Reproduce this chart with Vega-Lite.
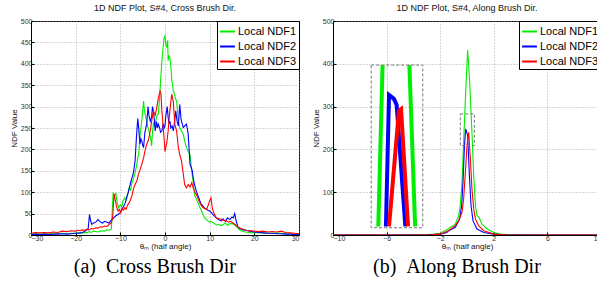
{
  "$schema": "https://vega.github.io/schema/vega-lite/v6.json",
  "padding": {"left": 9, "top": 3, "right": 0, "bottom": 0},
  "background": "white",
  "config": {
    "font": "Liberation Sans",
    "view": {"stroke": "black", "strokeWidth": 1},
    "axis": {
      "domainColor": "black", "tickColor": "black", "tickSize": -3,
      "labelFontSize": 7, "labelColor": "#333", "labelFont": "Liberation Sans",
      "titleFontSize": 8, "titleFontWeight": "normal", "titleColor": "#111", "titleFont": "Liberation Sans",
      "gridColor": "#999", "gridDash": [1, 2], "gridWidth": 0.8, "gridOpacity": 1
    },
    "title": {"fontSize": 9, "fontWeight": "normal", "font": "Liberation Sans", "color": "#111", "offset": 4},
    "legend": {
      "strokeColor": "black", "fillColor": "white",
      "padding": 2, "symbolType": "stroke", "symbolStrokeWidth": 2, "symbolSize": 220,
      "labelFontSize": 11, "labelFont": "Liberation Sans", "labelColor": "black", "rowPadding": 1, "cornerRadius": 0, "labelOffset": 2
    }
  },
  "datasets": {
    "cross": [
      {"theta": -30, "ndf": 2, "series": "Local NDF1"}, {"theta": -29, "ndf": 3, "series": "Local NDF1"}, {"theta": -28, "ndf": 2, "series": "Local NDF1"}, {"theta": -27, "ndf": 3, "series": "Local NDF1"}, {"theta": -26, "ndf": 2, "series": "Local NDF1"}, {"theta": -25, "ndf": 3, "series": "Local NDF1"}, {"theta": -24, "ndf": 3, "series": "Local NDF1"}, {"theta": -23, "ndf": 4, "series": "Local NDF1"}, {"theta": -22, "ndf": 3, "series": "Local NDF1"}, {"theta": -21, "ndf": 4, "series": "Local NDF1"}, {"theta": -20, "ndf": 4, "series": "Local NDF1"}, {"theta": -19, "ndf": 5, "series": "Local NDF1"}, {"theta": -18.5, "ndf": 4, "series": "Local NDF1"}, {"theta": -18, "ndf": 6, "series": "Local NDF1"}, {"theta": -17.5, "ndf": 5, "series": "Local NDF1"}, {"theta": -17, "ndf": 8, "series": "Local NDF1"}, {"theta": -16.5, "ndf": 6, "series": "Local NDF1"}, {"theta": -16, "ndf": 9, "series": "Local NDF1"}, {"theta": -15.5, "ndf": 8, "series": "Local NDF1"}, {"theta": -15, "ndf": 7, "series": "Local NDF1"}, {"theta": -14.5, "ndf": 9, "series": "Local NDF1"}, {"theta": -14, "ndf": 10, "series": "Local NDF1"}, {"theta": -13.5, "ndf": 9, "series": "Local NDF1"}, {"theta": -13, "ndf": 12, "series": "Local NDF1"}, {"theta": -12.5, "ndf": 11, "series": "Local NDF1"}, {"theta": -12, "ndf": 14, "series": "Local NDF1"}, {"theta": -11.8, "ndf": 60, "series": "Local NDF1"}, {"theta": -11.6, "ndf": 99, "series": "Local NDF1"}, {"theta": -11.3, "ndf": 92, "series": "Local NDF1"}, {"theta": -11, "ndf": 97, "series": "Local NDF1"}, {"theta": -10.7, "ndf": 75, "series": "Local NDF1"}, {"theta": -10.4, "ndf": 64, "series": "Local NDF1"}, {"theta": -10, "ndf": 70, "series": "Local NDF1"}, {"theta": -9.7, "ndf": 66, "series": "Local NDF1"}, {"theta": -9.4, "ndf": 80, "series": "Local NDF1"}, {"theta": -9, "ndf": 87, "series": "Local NDF1"}, {"theta": -8.7, "ndf": 82, "series": "Local NDF1"}, {"theta": -8.4, "ndf": 95, "series": "Local NDF1"}, {"theta": -8, "ndf": 110, "series": "Local NDF1"}, {"theta": -7.7, "ndf": 105, "series": "Local NDF1"}, {"theta": -7.4, "ndf": 122, "series": "Local NDF1"}, {"theta": -7, "ndf": 134, "series": "Local NDF1"}, {"theta": -6.7, "ndf": 145, "series": "Local NDF1"}, {"theta": -6.4, "ndf": 160, "series": "Local NDF1"}, {"theta": -6.1, "ndf": 180, "series": "Local NDF1"}, {"theta": -5.9, "ndf": 188, "series": "Local NDF1"}, {"theta": -5.6, "ndf": 230, "series": "Local NDF1"}, {"theta": -5.4, "ndf": 250, "series": "Local NDF1"}, {"theta": -5.2, "ndf": 266, "series": "Local NDF1"}, {"theta": -5, "ndf": 290, "series": "Local NDF1"}, {"theta": -4.8, "ndf": 313, "series": "Local NDF1"}, {"theta": -4.6, "ndf": 290, "series": "Local NDF1"}, {"theta": -4.4, "ndf": 280, "series": "Local NDF1"}, {"theta": -4.1, "ndf": 266, "series": "Local NDF1"}, {"theta": -3.8, "ndf": 250, "series": "Local NDF1"}, {"theta": -3.5, "ndf": 240, "series": "Local NDF1"}, {"theta": -3.2, "ndf": 225, "series": "Local NDF1"}, {"theta": -3, "ndf": 208, "series": "Local NDF1"}, {"theta": -2.8, "ndf": 240, "series": "Local NDF1"}, {"theta": -2.6, "ndf": 261, "series": "Local NDF1"}, {"theta": -2.3, "ndf": 255, "series": "Local NDF1"}, {"theta": -2, "ndf": 270, "series": "Local NDF1"}, {"theta": -1.7, "ndf": 282, "series": "Local NDF1"}, {"theta": -1.5, "ndf": 282, "series": "Local NDF1"}, {"theta": -1.2, "ndf": 320, "series": "Local NDF1"}, {"theta": -1, "ndf": 360, "series": "Local NDF1"}, {"theta": -0.7, "ndf": 406, "series": "Local NDF1"}, {"theta": -0.5, "ndf": 430, "series": "Local NDF1"}, {"theta": -0.2, "ndf": 461, "series": "Local NDF1"}, {"theta": 0, "ndf": 465, "series": "Local NDF1"}, {"theta": 0.2, "ndf": 445, "series": "Local NDF1"}, {"theta": 0.4, "ndf": 438, "series": "Local NDF1"}, {"theta": 0.6, "ndf": 455, "series": "Local NDF1"}, {"theta": 0.7, "ndf": 407, "series": "Local NDF1"}, {"theta": 0.9, "ndf": 420, "series": "Local NDF1"}, {"theta": 1.1, "ndf": 414, "series": "Local NDF1"}, {"theta": 1.3, "ndf": 395, "series": "Local NDF1"}, {"theta": 1.5, "ndf": 364, "series": "Local NDF1"}, {"theta": 1.7, "ndf": 350, "series": "Local NDF1"}, {"theta": 1.85, "ndf": 336, "series": "Local NDF1"}, {"theta": 2.1, "ndf": 330, "series": "Local NDF1"}, {"theta": 2.3, "ndf": 320, "series": "Local NDF1"}, {"theta": 2.6, "ndf": 313, "series": "Local NDF1"}, {"theta": 2.8, "ndf": 290, "series": "Local NDF1"}, {"theta": 3, "ndf": 266, "series": "Local NDF1"}, {"theta": 3.3, "ndf": 251, "series": "Local NDF1"}, {"theta": 3.6, "ndf": 245, "series": "Local NDF1"}, {"theta": 4.1, "ndf": 235, "series": "Local NDF1"}, {"theta": 4.4, "ndf": 220, "series": "Local NDF1"}, {"theta": 4.8, "ndf": 204, "series": "Local NDF1"}, {"theta": 5.2, "ndf": 195, "series": "Local NDF1"}, {"theta": 5.6, "ndf": 188, "series": "Local NDF1"}, {"theta": 5.9, "ndf": 157, "series": "Local NDF1"}, {"theta": 6.1, "ndf": 140, "series": "Local NDF1"}, {"theta": 6.3, "ndf": 126, "series": "Local NDF1"}, {"theta": 6.5, "ndf": 105, "series": "Local NDF1"}, {"theta": 6.7, "ndf": 91, "series": "Local NDF1"}, {"theta": 7, "ndf": 85, "series": "Local NDF1"}, {"theta": 7.4, "ndf": 75, "series": "Local NDF1"}, {"theta": 7.8, "ndf": 65, "series": "Local NDF1"}, {"theta": 8.2, "ndf": 56, "series": "Local NDF1"}, {"theta": 8.6, "ndf": 46, "series": "Local NDF1"}, {"theta": 8.9, "ndf": 40, "series": "Local NDF1"}, {"theta": 9.3, "ndf": 36, "series": "Local NDF1"}, {"theta": 9.6, "ndf": 33, "series": "Local NDF1"}, {"theta": 10, "ndf": 30, "series": "Local NDF1"}, {"theta": 10.3, "ndf": 32, "series": "Local NDF1"}, {"theta": 10.7, "ndf": 29, "series": "Local NDF1"}, {"theta": 11.2, "ndf": 26, "series": "Local NDF1"}, {"theta": 11.6, "ndf": 23, "series": "Local NDF1"}, {"theta": 12, "ndf": 25, "series": "Local NDF1"}, {"theta": 12.5, "ndf": 22, "series": "Local NDF1"}, {"theta": 13, "ndf": 24, "series": "Local NDF1"}, {"theta": 13.5, "ndf": 28, "series": "Local NDF1"}, {"theta": 14, "ndf": 22, "series": "Local NDF1"}, {"theta": 14.5, "ndf": 26, "series": "Local NDF1"}, {"theta": 15, "ndf": 27, "series": "Local NDF1"}, {"theta": 15.5, "ndf": 24, "series": "Local NDF1"}, {"theta": 16, "ndf": 20, "series": "Local NDF1"}, {"theta": 16.5, "ndf": 14, "series": "Local NDF1"}, {"theta": 17, "ndf": 10, "series": "Local NDF1"}, {"theta": 17.5, "ndf": 8, "series": "Local NDF1"}, {"theta": 18, "ndf": 7, "series": "Local NDF1"}, {"theta": 19, "ndf": 6, "series": "Local NDF1"}, {"theta": 20, "ndf": 5, "series": "Local NDF1"}, {"theta": 21, "ndf": 6, "series": "Local NDF1"}, {"theta": 22, "ndf": 5, "series": "Local NDF1"}, {"theta": 23, "ndf": 4, "series": "Local NDF1"}, {"theta": 24, "ndf": 4, "series": "Local NDF1"}, {"theta": 25, "ndf": 5, "series": "Local NDF1"}, {"theta": 26, "ndf": 4, "series": "Local NDF1"}, {"theta": 27, "ndf": 3, "series": "Local NDF1"}, {"theta": 28, "ndf": 3, "series": "Local NDF1"}, {"theta": 29, "ndf": 2, "series": "Local NDF1"}, {"theta": 30, "ndf": 2, "series": "Local NDF1"},

      {"theta": -30, "ndf": 1, "series": "Local NDF2"}, {"theta": -29, "ndf": 2, "series": "Local NDF2"}, {"theta": -28, "ndf": 1, "series": "Local NDF2"}, {"theta": -27, "ndf": 2, "series": "Local NDF2"}, {"theta": -26, "ndf": 1, "series": "Local NDF2"}, {"theta": -25, "ndf": 2, "series": "Local NDF2"}, {"theta": -24, "ndf": 2, "series": "Local NDF2"}, {"theta": -23, "ndf": 3, "series": "Local NDF2"}, {"theta": -22, "ndf": 2, "series": "Local NDF2"}, {"theta": -21, "ndf": 3, "series": "Local NDF2"}, {"theta": -20, "ndf": 4, "series": "Local NDF2"}, {"theta": -19, "ndf": 5, "series": "Local NDF2"}, {"theta": -18.5, "ndf": 6, "series": "Local NDF2"}, {"theta": -18, "ndf": 8, "series": "Local NDF2"}, {"theta": -17.5, "ndf": 12, "series": "Local NDF2"}, {"theta": -17.2, "ndf": 15, "series": "Local NDF2"}, {"theta": -16.9, "ndf": 48, "series": "Local NDF2"}, {"theta": -16.7, "ndf": 35, "series": "Local NDF2"}, {"theta": -16.4, "ndf": 25, "series": "Local NDF2"}, {"theta": -16, "ndf": 28, "series": "Local NDF2"}, {"theta": -15.5, "ndf": 30, "series": "Local NDF2"}, {"theta": -15, "ndf": 36, "series": "Local NDF2"}, {"theta": -14.7, "ndf": 33, "series": "Local NDF2"}, {"theta": -14.4, "ndf": 30, "series": "Local NDF2"}, {"theta": -14, "ndf": 28, "series": "Local NDF2"}, {"theta": -13.5, "ndf": 32, "series": "Local NDF2"}, {"theta": -13, "ndf": 30, "series": "Local NDF2"}, {"theta": -12.5, "ndf": 28, "series": "Local NDF2"}, {"theta": -12.2, "ndf": 33, "series": "Local NDF2"}, {"theta": -11.8, "ndf": 36, "series": "Local NDF2"}, {"theta": -11.5, "ndf": 40, "series": "Local NDF2"}, {"theta": -11, "ndf": 45, "series": "Local NDF2"}, {"theta": -10.5, "ndf": 48, "series": "Local NDF2"}, {"theta": -10, "ndf": 52, "series": "Local NDF2"}, {"theta": -9.7, "ndf": 60, "series": "Local NDF2"}, {"theta": -9.3, "ndf": 66, "series": "Local NDF2"}, {"theta": -8.9, "ndf": 75, "series": "Local NDF2"}, {"theta": -8.5, "ndf": 90, "series": "Local NDF2"}, {"theta": -8.2, "ndf": 100, "series": "Local NDF2"}, {"theta": -7.8, "ndf": 118, "series": "Local NDF2"}, {"theta": -7.5, "ndf": 130, "series": "Local NDF2"}, {"theta": -7.2, "ndf": 140, "series": "Local NDF2"}, {"theta": -7, "ndf": 150, "series": "Local NDF2"}, {"theta": -6.7, "ndf": 173, "series": "Local NDF2"}, {"theta": -6.5, "ndf": 210, "series": "Local NDF2"}, {"theta": -6.3, "ndf": 243, "series": "Local NDF2"}, {"theta": -6.1, "ndf": 272, "series": "Local NDF2"}, {"theta": -5.9, "ndf": 251, "series": "Local NDF2"}, {"theta": -5.6, "ndf": 212, "series": "Local NDF2"}, {"theta": -5.4, "ndf": 225, "series": "Local NDF2"}, {"theta": -5.2, "ndf": 220, "series": "Local NDF2"}, {"theta": -5, "ndf": 210, "series": "Local NDF2"}, {"theta": -4.8, "ndf": 204, "series": "Local NDF2"}, {"theta": -4.5, "ndf": 240, "series": "Local NDF2"}, {"theta": -4.1, "ndf": 259, "series": "Local NDF2"}, {"theta": -3.8, "ndf": 300, "series": "Local NDF2"}, {"theta": -3.6, "ndf": 280, "series": "Local NDF2"}, {"theta": -3.3, "ndf": 266, "series": "Local NDF2"}, {"theta": -3, "ndf": 275, "series": "Local NDF2"}, {"theta": -2.8, "ndf": 300, "series": "Local NDF2"}, {"theta": -2.6, "ndf": 290, "series": "Local NDF2"}, {"theta": -2.4, "ndf": 270, "series": "Local NDF2"}, {"theta": -2.2, "ndf": 243, "series": "Local NDF2"}, {"theta": -1.9, "ndf": 265, "series": "Local NDF2"}, {"theta": -1.7, "ndf": 250, "series": "Local NDF2"}, {"theta": -1.5, "ndf": 259, "series": "Local NDF2"}, {"theta": -1.2, "ndf": 250, "series": "Local NDF2"}, {"theta": -1, "ndf": 240, "series": "Local NDF2"}, {"theta": -0.7, "ndf": 243, "series": "Local NDF2"}, {"theta": -0.4, "ndf": 260, "series": "Local NDF2"}, {"theta": -0.2, "ndf": 250, "series": "Local NDF2"}, {"theta": 0, "ndf": 255, "series": "Local NDF2"}, {"theta": 0.2, "ndf": 280, "series": "Local NDF2"}, {"theta": 0.5, "ndf": 300, "series": "Local NDF2"}, {"theta": 0.7, "ndf": 275, "series": "Local NDF2"}, {"theta": 0.9, "ndf": 260, "series": "Local NDF2"}, {"theta": 1.1, "ndf": 266, "series": "Local NDF2"}, {"theta": 1.3, "ndf": 250, "series": "Local NDF2"}, {"theta": 1.6, "ndf": 255, "series": "Local NDF2"}, {"theta": 1.85, "ndf": 243, "series": "Local NDF2"}, {"theta": 2.1, "ndf": 260, "series": "Local NDF2"}, {"theta": 2.4, "ndf": 290, "series": "Local NDF2"}, {"theta": 2.7, "ndf": 266, "series": "Local NDF2"}, {"theta": 3, "ndf": 255, "series": "Local NDF2"}, {"theta": 3.3, "ndf": 305, "series": "Local NDF2"}, {"theta": 3.6, "ndf": 270, "series": "Local NDF2"}, {"theta": 3.8, "ndf": 262, "series": "Local NDF2"}, {"theta": 4.1, "ndf": 251, "series": "Local NDF2"}, {"theta": 4.4, "ndf": 255, "series": "Local NDF2"}, {"theta": 4.8, "ndf": 259, "series": "Local NDF2"}, {"theta": 5, "ndf": 248, "series": "Local NDF2"}, {"theta": 5.2, "ndf": 235, "series": "Local NDF2"}, {"theta": 5.4, "ndf": 200, "series": "Local NDF2"}, {"theta": 5.6, "ndf": 165, "series": "Local NDF2"}, {"theta": 5.9, "ndf": 157, "series": "Local NDF2"}, {"theta": 6.1, "ndf": 150, "series": "Local NDF2"}, {"theta": 6.3, "ndf": 134, "series": "Local NDF2"}, {"theta": 6.6, "ndf": 118, "series": "Local NDF2"}, {"theta": 7, "ndf": 103, "series": "Local NDF2"}, {"theta": 7.4, "ndf": 92, "series": "Local NDF2"}, {"theta": 7.8, "ndf": 80, "series": "Local NDF2"}, {"theta": 8.1, "ndf": 72, "series": "Local NDF2"}, {"theta": 8.5, "ndf": 68, "series": "Local NDF2"}, {"theta": 8.9, "ndf": 62, "series": "Local NDF2"}, {"theta": 9.3, "ndf": 60, "series": "Local NDF2"}, {"theta": 9.6, "ndf": 58, "series": "Local NDF2"}, {"theta": 10, "ndf": 56, "series": "Local NDF2"}, {"theta": 10.4, "ndf": 52, "series": "Local NDF2"}, {"theta": 10.7, "ndf": 48, "series": "Local NDF2"}, {"theta": 11.1, "ndf": 44, "series": "Local NDF2"}, {"theta": 11.5, "ndf": 40, "series": "Local NDF2"}, {"theta": 12, "ndf": 36, "series": "Local NDF2"}, {"theta": 12.6, "ndf": 33, "series": "Local NDF2"}, {"theta": 13, "ndf": 38, "series": "Local NDF2"}, {"theta": 13.5, "ndf": 32, "series": "Local NDF2"}, {"theta": 14, "ndf": 40, "series": "Local NDF2"}, {"theta": 14.5, "ndf": 36, "series": "Local NDF2"}, {"theta": 15, "ndf": 42, "series": "Local NDF2"}, {"theta": 15.3, "ndf": 40, "series": "Local NDF2"}, {"theta": 15.6, "ndf": 50, "series": "Local NDF2"}, {"theta": 15.9, "ndf": 35, "series": "Local NDF2"}, {"theta": 16.3, "ndf": 19, "series": "Local NDF2"}, {"theta": 16.8, "ndf": 15, "series": "Local NDF2"}, {"theta": 17.5, "ndf": 12, "series": "Local NDF2"}, {"theta": 18.1, "ndf": 11, "series": "Local NDF2"}, {"theta": 19, "ndf": 9, "series": "Local NDF2"}, {"theta": 20, "ndf": 7, "series": "Local NDF2"}, {"theta": 21, "ndf": 6, "series": "Local NDF2"}, {"theta": 22, "ndf": 5, "series": "Local NDF2"}, {"theta": 23, "ndf": 4, "series": "Local NDF2"}, {"theta": 24, "ndf": 4, "series": "Local NDF2"}, {"theta": 25, "ndf": 3, "series": "Local NDF2"}, {"theta": 26, "ndf": 3, "series": "Local NDF2"}, {"theta": 27, "ndf": 2, "series": "Local NDF2"}, {"theta": 28, "ndf": 2, "series": "Local NDF2"}, {"theta": 29, "ndf": 1, "series": "Local NDF2"}, {"theta": 30, "ndf": 1, "series": "Local NDF2"},

      {"theta": -30, "ndf": 4, "series": "Local NDF3"}, {"theta": -29, "ndf": 6, "series": "Local NDF3"}, {"theta": -28, "ndf": 5, "series": "Local NDF3"}, {"theta": -27, "ndf": 6, "series": "Local NDF3"}, {"theta": -26, "ndf": 5, "series": "Local NDF3"}, {"theta": -25, "ndf": 7, "series": "Local NDF3"}, {"theta": -24, "ndf": 6, "series": "Local NDF3"}, {"theta": -23, "ndf": 9, "series": "Local NDF3"}, {"theta": -22, "ndf": 8, "series": "Local NDF3"}, {"theta": -21, "ndf": 10, "series": "Local NDF3"}, {"theta": -20, "ndf": 9, "series": "Local NDF3"}, {"theta": -19.5, "ndf": 11, "series": "Local NDF3"}, {"theta": -19, "ndf": 10, "series": "Local NDF3"}, {"theta": -18.5, "ndf": 12, "series": "Local NDF3"}, {"theta": -18, "ndf": 11, "series": "Local NDF3"}, {"theta": -17.5, "ndf": 13, "series": "Local NDF3"}, {"theta": -17, "ndf": 12, "series": "Local NDF3"}, {"theta": -16.5, "ndf": 15, "series": "Local NDF3"}, {"theta": -16, "ndf": 14, "series": "Local NDF3"}, {"theta": -15.5, "ndf": 17, "series": "Local NDF3"}, {"theta": -15, "ndf": 16, "series": "Local NDF3"}, {"theta": -14.5, "ndf": 19, "series": "Local NDF3"}, {"theta": -14, "ndf": 18, "series": "Local NDF3"}, {"theta": -13.5, "ndf": 21, "series": "Local NDF3"}, {"theta": -13, "ndf": 20, "series": "Local NDF3"}, {"theta": -12.5, "ndf": 25, "series": "Local NDF3"}, {"theta": -12, "ndf": 28, "series": "Local NDF3"}, {"theta": -11.7, "ndf": 45, "series": "Local NDF3"}, {"theta": -11.4, "ndf": 96, "series": "Local NDF3"}, {"theta": -11.1, "ndf": 80, "series": "Local NDF3"}, {"theta": -10.8, "ndf": 64, "series": "Local NDF3"}, {"theta": -10.5, "ndf": 56, "series": "Local NDF3"}, {"theta": -10.2, "ndf": 60, "series": "Local NDF3"}, {"theta": -9.9, "ndf": 52, "series": "Local NDF3"}, {"theta": -9.6, "ndf": 62, "series": "Local NDF3"}, {"theta": -9.3, "ndf": 58, "series": "Local NDF3"}, {"theta": -9, "ndf": 64, "series": "Local NDF3"}, {"theta": -8.7, "ndf": 60, "series": "Local NDF3"}, {"theta": -8.4, "ndf": 70, "series": "Local NDF3"}, {"theta": -8.1, "ndf": 74, "series": "Local NDF3"}, {"theta": -7.8, "ndf": 80, "series": "Local NDF3"}, {"theta": -7.4, "ndf": 92, "series": "Local NDF3"}, {"theta": -7, "ndf": 110, "series": "Local NDF3"}, {"theta": -6.7, "ndf": 118, "series": "Local NDF3"}, {"theta": -6.3, "ndf": 126, "series": "Local NDF3"}, {"theta": -6, "ndf": 140, "series": "Local NDF3"}, {"theta": -5.6, "ndf": 152, "series": "Local NDF3"}, {"theta": -5.2, "ndf": 165, "series": "Local NDF3"}, {"theta": -4.8, "ndf": 180, "series": "Local NDF3"}, {"theta": -4.4, "ndf": 200, "series": "Local NDF3"}, {"theta": -4, "ndf": 215, "series": "Local NDF3"}, {"theta": -3.7, "ndf": 222, "series": "Local NDF3"}, {"theta": -3.3, "ndf": 243, "series": "Local NDF3"}, {"theta": -3, "ndf": 265, "series": "Local NDF3"}, {"theta": -2.6, "ndf": 290, "series": "Local NDF3"}, {"theta": -2.2, "ndf": 280, "series": "Local NDF3"}, {"theta": -1.85, "ndf": 297, "series": "Local NDF3"}, {"theta": -1.5, "ndf": 320, "series": "Local NDF3"}, {"theta": -1.1, "ndf": 336, "series": "Local NDF3"}, {"theta": -0.9, "ndf": 330, "series": "Local NDF3"}, {"theta": -0.7, "ndf": 290, "series": "Local NDF3"}, {"theta": -0.4, "ndf": 251, "series": "Local NDF3"}, {"theta": -0.2, "ndf": 225, "series": "Local NDF3"}, {"theta": 0, "ndf": 195, "series": "Local NDF3"}, {"theta": 0.2, "ndf": 205, "series": "Local NDF3"}, {"theta": 0.4, "ndf": 215, "series": "Local NDF3"}, {"theta": 0.7, "ndf": 243, "series": "Local NDF3"}, {"theta": 1, "ndf": 280, "series": "Local NDF3"}, {"theta": 1.3, "ndf": 310, "series": "Local NDF3"}, {"theta": 1.5, "ndf": 329, "series": "Local NDF3"}, {"theta": 1.7, "ndf": 320, "series": "Local NDF3"}, {"theta": 1.85, "ndf": 313, "series": "Local NDF3"}, {"theta": 2.2, "ndf": 259, "series": "Local NDF3"}, {"theta": 2.6, "ndf": 243, "series": "Local NDF3"}, {"theta": 3, "ndf": 204, "series": "Local NDF3"}, {"theta": 3.3, "ndf": 188, "series": "Local NDF3"}, {"theta": 3.7, "ndf": 173, "series": "Local NDF3"}, {"theta": 4.1, "ndf": 142, "series": "Local NDF3"}, {"theta": 4.4, "ndf": 118, "series": "Local NDF3"}, {"theta": 4.8, "ndf": 110, "series": "Local NDF3"}, {"theta": 5.2, "ndf": 118, "series": "Local NDF3"}, {"theta": 5.6, "ndf": 112, "series": "Local NDF3"}, {"theta": 6, "ndf": 122, "series": "Local NDF3"}, {"theta": 6.3, "ndf": 110, "series": "Local NDF3"}, {"theta": 6.7, "ndf": 100, "series": "Local NDF3"}, {"theta": 7, "ndf": 95, "series": "Local NDF3"}, {"theta": 7.4, "ndf": 85, "series": "Local NDF3"}, {"theta": 7.8, "ndf": 75, "series": "Local NDF3"}, {"theta": 8.2, "ndf": 68, "series": "Local NDF3"}, {"theta": 8.5, "ndf": 64, "series": "Local NDF3"}, {"theta": 8.9, "ndf": 62, "series": "Local NDF3"}, {"theta": 9.3, "ndf": 60, "series": "Local NDF3"}, {"theta": 9.7, "ndf": 70, "series": "Local NDF3"}, {"theta": 10, "ndf": 80, "series": "Local NDF3"}, {"theta": 10.3, "ndf": 87, "series": "Local NDF3"}, {"theta": 10.6, "ndf": 62, "series": "Local NDF3"}, {"theta": 11, "ndf": 50, "series": "Local NDF3"}, {"theta": 11.5, "ndf": 40, "series": "Local NDF3"}, {"theta": 12, "ndf": 38, "series": "Local NDF3"}, {"theta": 12.6, "ndf": 37, "series": "Local NDF3"}, {"theta": 13.2, "ndf": 34, "series": "Local NDF3"}, {"theta": 13.7, "ndf": 33, "series": "Local NDF3"}, {"theta": 14.2, "ndf": 30, "series": "Local NDF3"}, {"theta": 14.7, "ndf": 32, "series": "Local NDF3"}, {"theta": 15.2, "ndf": 28, "series": "Local NDF3"}, {"theta": 15.8, "ndf": 24, "series": "Local NDF3"}, {"theta": 16.3, "ndf": 19, "series": "Local NDF3"}, {"theta": 17, "ndf": 15, "series": "Local NDF3"}, {"theta": 18.1, "ndf": 11, "series": "Local NDF3"}, {"theta": 19, "ndf": 10, "series": "Local NDF3"}, {"theta": 20, "ndf": 9, "series": "Local NDF3"}, {"theta": 21, "ndf": 8, "series": "Local NDF3"}, {"theta": 22, "ndf": 9, "series": "Local NDF3"}, {"theta": 23, "ndf": 7, "series": "Local NDF3"}, {"theta": 24, "ndf": 8, "series": "Local NDF3"}, {"theta": 25, "ndf": 7, "series": "Local NDF3"}, {"theta": 26, "ndf": 9, "series": "Local NDF3"}, {"theta": 27, "ndf": 6, "series": "Local NDF3"}, {"theta": 28, "ndf": 5, "series": "Local NDF3"}, {"theta": 29, "ndf": 4, "series": "Local NDF3"}, {"theta": 30, "ndf": 3, "series": "Local NDF3"}
    ],
    "along": [
      {"theta": -10, "ndf": 0, "series": "Local NDF1"}, {"theta": -5, "ndf": 0, "series": "Local NDF1"}, {"theta": -3, "ndf": 1, "series": "Local NDF1"}, {"theta": -2.5, "ndf": 2, "series": "Local NDF1"}, {"theta": -2, "ndf": 4, "series": "Local NDF1"}, {"theta": -1.75, "ndf": 8, "series": "Local NDF1"}, {"theta": -1.5, "ndf": 12, "series": "Local NDF1"}, {"theta": -1.25, "ndf": 18, "series": "Local NDF1"}, {"theta": -1, "ndf": 22, "series": "Local NDF1"}, {"theta": -0.87, "ndf": 26, "series": "Local NDF1"}, {"theta": -0.75, "ndf": 35, "series": "Local NDF1"}, {"theta": -0.62, "ndf": 45, "series": "Local NDF1"}, {"theta": -0.5, "ndf": 69, "series": "Local NDF1"}, {"theta": -0.37, "ndf": 123, "series": "Local NDF1"}, {"theta": -0.25, "ndf": 217, "series": "Local NDF1"}, {"theta": -0.12, "ndf": 319, "series": "Local NDF1"}, {"theta": 0.05, "ndf": 432, "series": "Local NDF1"}, {"theta": 0.2, "ndf": 358, "series": "Local NDF1"}, {"theta": 0.37, "ndf": 240, "series": "Local NDF1"}, {"theta": 0.5, "ndf": 139, "series": "Local NDF1"}, {"theta": 0.63, "ndf": 69, "series": "Local NDF1"}, {"theta": 0.75, "ndf": 45, "series": "Local NDF1"}, {"theta": 0.9, "ndf": 41, "series": "Local NDF1"}, {"theta": 1.12, "ndf": 25, "series": "Local NDF1"}, {"theta": 1.5, "ndf": 14, "series": "Local NDF1"}, {"theta": 2, "ndf": 6, "series": "Local NDF1"}, {"theta": 2.5, "ndf": 2, "series": "Local NDF1"}, {"theta": 3, "ndf": 1, "series": "Local NDF1"}, {"theta": 5, "ndf": 0, "series": "Local NDF1"}, {"theta": 10, "ndf": 0, "series": "Local NDF1"},
      {"theta": -10, "ndf": 0, "series": "Local NDF2"}, {"theta": -3, "ndf": 0, "series": "Local NDF2"}, {"theta": -2, "ndf": 2, "series": "Local NDF2"}, {"theta": -1.5, "ndf": 6, "series": "Local NDF2"}, {"theta": -1.37, "ndf": 10, "series": "Local NDF2"}, {"theta": -0.87, "ndf": 18, "series": "Local NDF2"}, {"theta": -0.55, "ndf": 37, "series": "Local NDF2"}, {"theta": -0.4, "ndf": 69, "series": "Local NDF2"}, {"theta": -0.3, "ndf": 123, "series": "Local NDF2"}, {"theta": -0.2, "ndf": 201, "series": "Local NDF2"}, {"theta": -0.1, "ndf": 248, "series": "Local NDF2"}, {"theta": 0.05, "ndf": 233, "series": "Local NDF2"}, {"theta": 0.18, "ndf": 139, "series": "Local NDF2"}, {"theta": 0.3, "ndf": 69, "series": "Local NDF2"}, {"theta": 0.45, "ndf": 33, "series": "Local NDF2"}, {"theta": 0.75, "ndf": 14, "series": "Local NDF2"}, {"theta": 1.25, "ndf": 6, "series": "Local NDF2"}, {"theta": 2, "ndf": 2, "series": "Local NDF2"}, {"theta": 3, "ndf": 0, "series": "Local NDF2"}, {"theta": 10, "ndf": 0, "series": "Local NDF2"},
      {"theta": -10, "ndf": 0, "series": "Local NDF3"}, {"theta": -3, "ndf": 0, "series": "Local NDF3"}, {"theta": -2, "ndf": 2, "series": "Local NDF3"}, {"theta": -1.37, "ndf": 10, "series": "Local NDF3"}, {"theta": -0.87, "ndf": 22, "series": "Local NDF3"}, {"theta": -0.62, "ndf": 34, "series": "Local NDF3"}, {"theta": -0.37, "ndf": 53, "series": "Local NDF3"}, {"theta": -0.25, "ndf": 84, "series": "Local NDF3"}, {"theta": -0.12, "ndf": 147, "series": "Local NDF3"}, {"theta": 0, "ndf": 209, "series": "Local NDF3"}, {"theta": 0.13, "ndf": 240, "series": "Local NDF3"}, {"theta": 0.25, "ndf": 178, "series": "Local NDF3"}, {"theta": 0.37, "ndf": 108, "series": "Local NDF3"}, {"theta": 0.5, "ndf": 61, "series": "Local NDF3"}, {"theta": 0.63, "ndf": 37, "series": "Local NDF3"}, {"theta": 0.87, "ndf": 22, "series": "Local NDF3"}, {"theta": 1.25, "ndf": 10, "series": "Local NDF3"}, {"theta": 2, "ndf": 2, "series": "Local NDF3"}, {"theta": 3, "ndf": 0, "series": "Local NDF3"}, {"theta": 10, "ndf": 0, "series": "Local NDF3"}
    ],
    "inset": [
      {"theta": -6.62, "ndf": 20, "series": "Local NDF1", "seg": "g1"}, {"theta": -6.3, "ndf": 397, "series": "Local NDF1", "seg": "g1"},
      {"theta": -4.3, "ndf": 397, "series": "Local NDF1", "seg": "g2"}, {"theta": -3.87, "ndf": 20, "series": "Local NDF1", "seg": "g2"},
      {"theta": -6.05, "ndf": 20, "series": "Local NDF2", "seg": "b"}, {"theta": -5.82, "ndf": 327, "series": "Local NDF2", "seg": "b"}, {"theta": -5.45, "ndf": 318, "series": "Local NDF2", "seg": "b"}, {"theta": -5.25, "ndf": 304, "series": "Local NDF2", "seg": "b"}, {"theta": -4.6, "ndf": 20, "series": "Local NDF2", "seg": "b"},
      {"theta": -5.82, "ndf": 20, "series": "Local NDF3", "seg": "r"}, {"theta": -5.08, "ndf": 290, "series": "Local NDF3", "seg": "r"}, {"theta": -4.92, "ndf": 294, "series": "Local NDF3", "seg": "r"}, {"theta": -4.4, "ndf": 20, "series": "Local NDF3", "seg": "r"}
    ],
    "boxes": [
      {"x1": -7.15, "x2": -3.3, "y1": 17, "y2": 397},
      {"x1": -0.5, "x2": 0.55, "y1": 209, "y2": 283}
    ]
  },
  "spacing": 11,
  "resolve": {"scale": {"color": "independent"}, "legend": {"color": "independent"}},
  "hconcat": [
    {
      "title": {"text": "(a)\u00a0\u00a0Cross Brush Dir", "orient": "bottom", "anchor": "middle", "font": "Liberation Serif", "fontSize": 20, "fontWeight": "normal", "color": "black", "offset": 6},
      "resolve": {"scale": {"color": "independent"}, "legend": {"color": "independent"}},
      "vconcat": [
        {
          "title": "1D NDF Plot, S#4, Cross Brush Dir.",
          "width": 268, "height": 214,
          "data": {"name": "cross"},
          "mark": {"type": "line", "strokeWidth": 1.1, "clip": true},
          "encoding": {
            "x": {"field": "theta", "type": "quantitative", "scale": {"domain": [-30, 30], "nice": false},
                  "axis": {"values": [-30, -20, -10, 0, 10, 20, 30], "title": "θₘ (half angle)", "titlePadding": 1, "labelPadding": 2}},
            "y": {"field": "ndf", "type": "quantitative", "scale": {"domain": [0, 500], "nice": false},
                  "axis": {"values": [0, 50, 100, 150, 200, 250, 300, 350, 400, 450, 500], "title": "NDF Value", "titlePadding": 2, "labelPadding": 2}},
            "color": {"field": "series", "type": "nominal",
                      "scale": {"domain": ["Local NDF1", "Local NDF2", "Local NDF3"], "range": ["#00ee00", "#0000ff", "#ff0000"]},
                      "legend": {"orient": "top-right", "offset": 0, "title": null}}
          }
        }
      ]
    },
    {
      "title": {"text": "(b)\u00a0\u00a0Along Brush Dir", "orient": "bottom", "anchor": "middle", "font": "Liberation Serif", "fontSize": 20, "fontWeight": "normal", "color": "black", "offset": 6},
      "resolve": {"scale": {"color": "independent"}, "legend": {"color": "independent"}},
      "vconcat": [
        {
          "title": "1D NDF Plot, S#4, Along Brush Dir.",
          "width": 268, "height": 214,
          "layer": [
            {
              "data": {"name": "along"},
              "mark": {"type": "line", "strokeWidth": 1.1, "clip": true},
              "encoding": {
                "x": {"field": "theta", "type": "quantitative", "scale": {"domain": [-10, 10], "nice": false},
                      "axis": {"values": [-10, -8, -6, -4, -2, 0, 2, 4, 6, 8, 10], "title": "θₘ (half angle)", "titlePadding": 1, "labelPadding": 2}},
                "y": {"field": "ndf", "type": "quantitative", "scale": {"domain": [0, 500], "nice": false},
                      "axis": {"values": [0, 50, 100, 150, 200, 250, 300, 350, 400, 450, 500], "title": "NDF Value", "titlePadding": 2, "labelPadding": 2}},
                "color": {"field": "series", "type": "nominal",
                          "scale": {"domain": ["Local NDF1", "Local NDF2", "Local NDF3"], "range": ["#00ee00", "#0000ff", "#ff0000"]},
                          "legend": {"orient": "top-right", "offset": 0, "title": null}}
              }
            },
            {
              "data": {"name": "inset"},
              "mark": {"type": "line", "strokeWidth": 4},
              "encoding": {
                "x": {"field": "theta", "type": "quantitative"},
                "y": {"field": "ndf", "type": "quantitative"},
                "detail": {"field": "seg"},
                "color": {"field": "series", "type": "nominal", "legend": {"orient": "top-right", "offset": 0, "title": null}}
              }
            },
            {
              "data": {"name": "boxes"},
              "mark": {"type": "rect", "filled": false, "stroke": "#777", "strokeWidth": 1, "strokeDash": [3, 2]},
              "encoding": {
                "x": {"field": "x1", "type": "quantitative"},
                "x2": {"field": "x2"},
                "y": {"field": "y1", "type": "quantitative"},
                "y2": {"field": "y2"}
              }
            }
          ]
        }
      ]
    }
  ]
}
